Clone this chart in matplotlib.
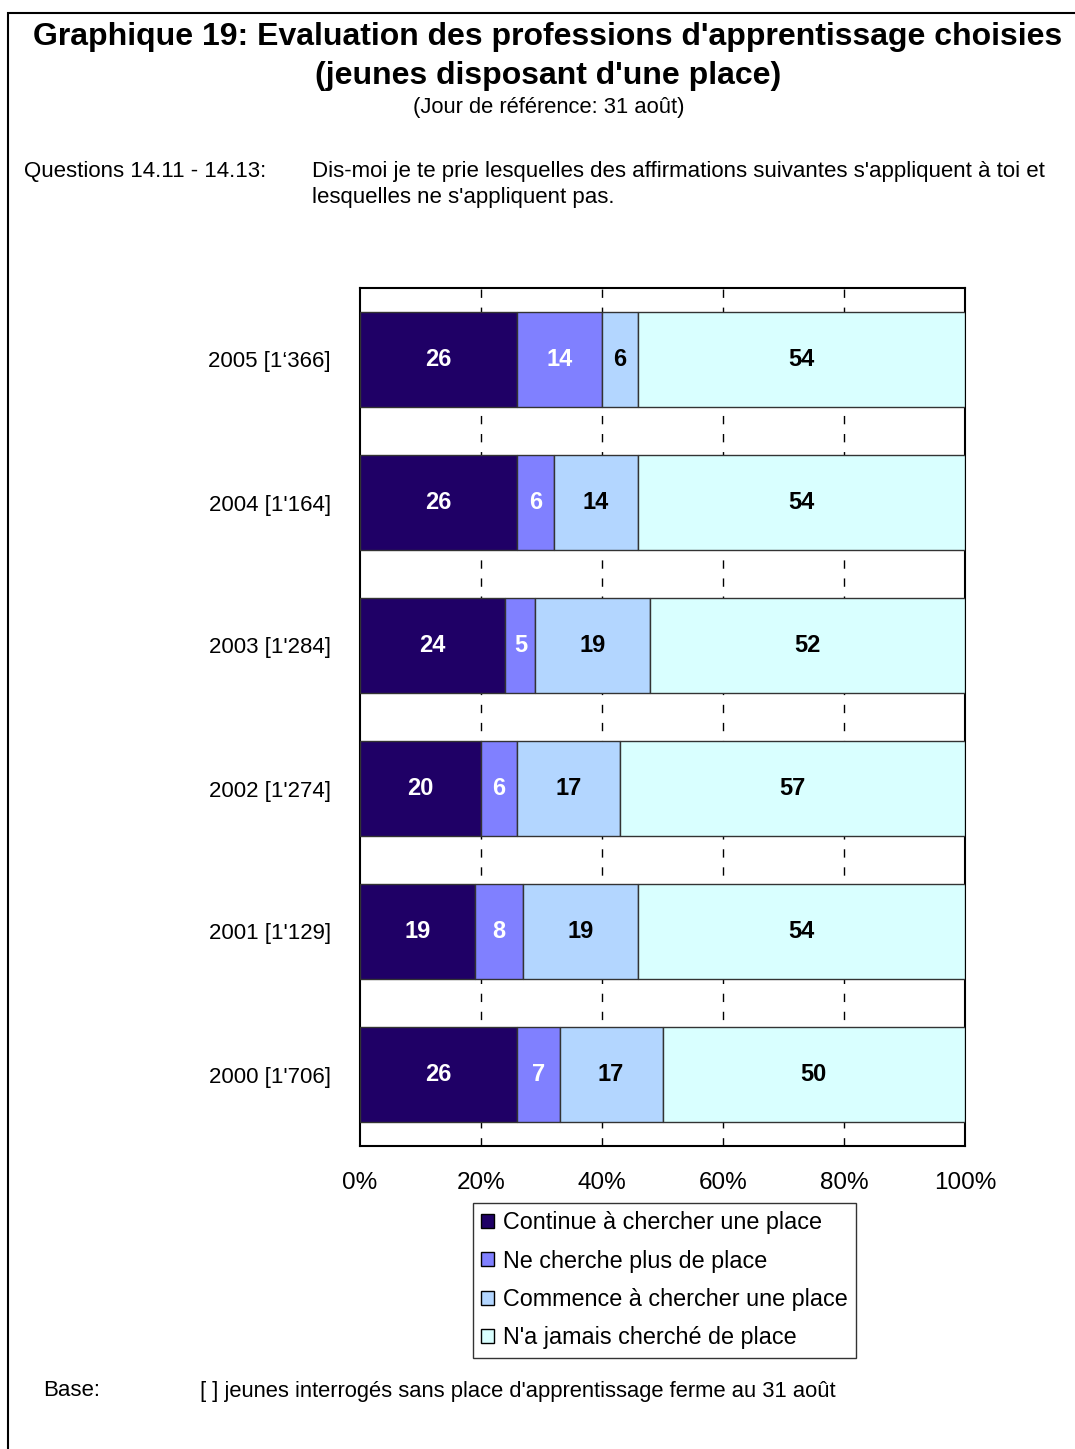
import numpy as np
import matplotlib.pyplot as plt
from matplotlib.patches import Rectangle

plt.rcParams['font.family'] = ['Liberation Sans', 'DejaVu Sans']

# donnees (de bas en haut)
annees = ['2000 [1\'706]', '2001 [1\'129]', '2002 [1\'274]', '2003 [1\'284]', '2004 [1\'164]', '2005 [1\u2018366]']
continue_ = [26, 19, 20, 24, 26, 26]
plus = [7, 8, 6, 5, 6, 14]
commence = [17, 19, 17, 19, 14, 6]
jamais = [50, 54, 57, 52, 54, 54]
series = [continue_, plus, commence, jamais]
noms = ['Continue à chercher une place', 'Ne cherche plus de place',
        'Commence à chercher une place', "N'a jamais cherché de place"]
couleurs = ['#1F0066', '#8080FF', '#B3D6FF', '#D9FFFF']
txt_col = ['white', 'white', 'black', 'black']
xticks = [0, 20, 40, 60, 80, 100]

W, H = 1075, 1449
fig = plt.figure(figsize=(W / 100, H / 100), dpi=100)

def fx(px):
    return px / W

def fy(py):
    return 1 - py / H

# cadre
fig.patches.append(Rectangle((fx(8), fy(1460)), fx(1100), fy(13) - fy(1460),
                             transform=fig.transFigure, fill=False, lw=1.5, ec='black'))

fig.text(fx(548), fy(37), "Graphique 19: Evaluation des professions d'apprentissage choisies",
         ha='center', va='center', fontsize=23, fontweight='bold')
fig.text(fx(548), fy(76), "(jeunes disposant d'une place)",
         ha='center', va='center', fontsize=23, fontweight='bold')
fig.text(fx(549), fy(107), "(Jour de référence: 31 août)", ha='center', va='center', fontsize=15.8)
fig.text(fx(24), fy(171), "Questions 14.11 - 14.13:", ha='left', va='center', fontsize=16)
fig.text(fx(312), fy(171), "Dis-moi je te prie lesquelles des affirmations suivantes s'appliquent à toi et",
         ha='left', va='center', fontsize=16)
fig.text(fx(312), fy(197), "lesquelles ne s'appliquent pas.", ha='left', va='center', fontsize=16)
fig.text(fx(43), fy(1391), "Base:", ha='left', va='center', fontsize=16)
fig.text(fx(200), fy(1391), "[ ] jeunes interrogés sans place d'apprentissage ferme au 31 août",
         ha='left', va='center', fontsize=15.8)

ax = fig.add_axes([fx(360), fy(1146), fx(965) - fx(360), fy(288) - fy(1146)])
y = np.arange(len(annees))
left = np.zeros(len(annees))
for i, s in enumerate(series):
    s = np.array(s)
    ax.barh(y, s, left=left, height=0.67, color=couleurs[i], edgecolor='#333333',
            lw=1, label=noms[i], zorder=3)
    for yy, l, v in zip(y, left, s):
        ax.text(l + v / 2, yy, str(v), ha='center', va='center', color=txt_col[i],
                fontsize=17, fontweight='bold', zorder=4)
    left += s

ax.set_xlim(0, 100)
ax.set_ylim(-0.5, len(annees) - 0.5)
ax.set_xticks(xticks)
ax.set_xticklabels([f'{t}%' for t in xticks], fontsize=17.5)
ax.set_yticks(y)
ax.set_yticklabels(annees, fontsize=16)
ax.tick_params(length=0)
ax.tick_params(axis='x', pad=19)
ax.tick_params(axis='y', pad=21)
for t in xticks[1:-1]:
    ax.axvline(t, color='black', lw=1, ls=(0, (6, 7)), zorder=1)
for sp in ax.spines.values():
    sp.set_linewidth(1.5)

leg = ax.legend(loc='upper left', bbox_to_anchor=(fx(473), fy(1203)),
                bbox_transform=fig.transFigure, fontsize=16.8, frameon=True,
                fancybox=False, edgecolor='black', handlelength=0.55, handleheight=0.55,
                handletextpad=0.4, labelspacing=0.66, borderpad=0.35, borderaxespad=0)
leg.get_frame().set_linewidth(1)
for h in leg.legend_handles:
    h.set_edgecolor('black')

fig.savefig('out.png', dpi=100)
